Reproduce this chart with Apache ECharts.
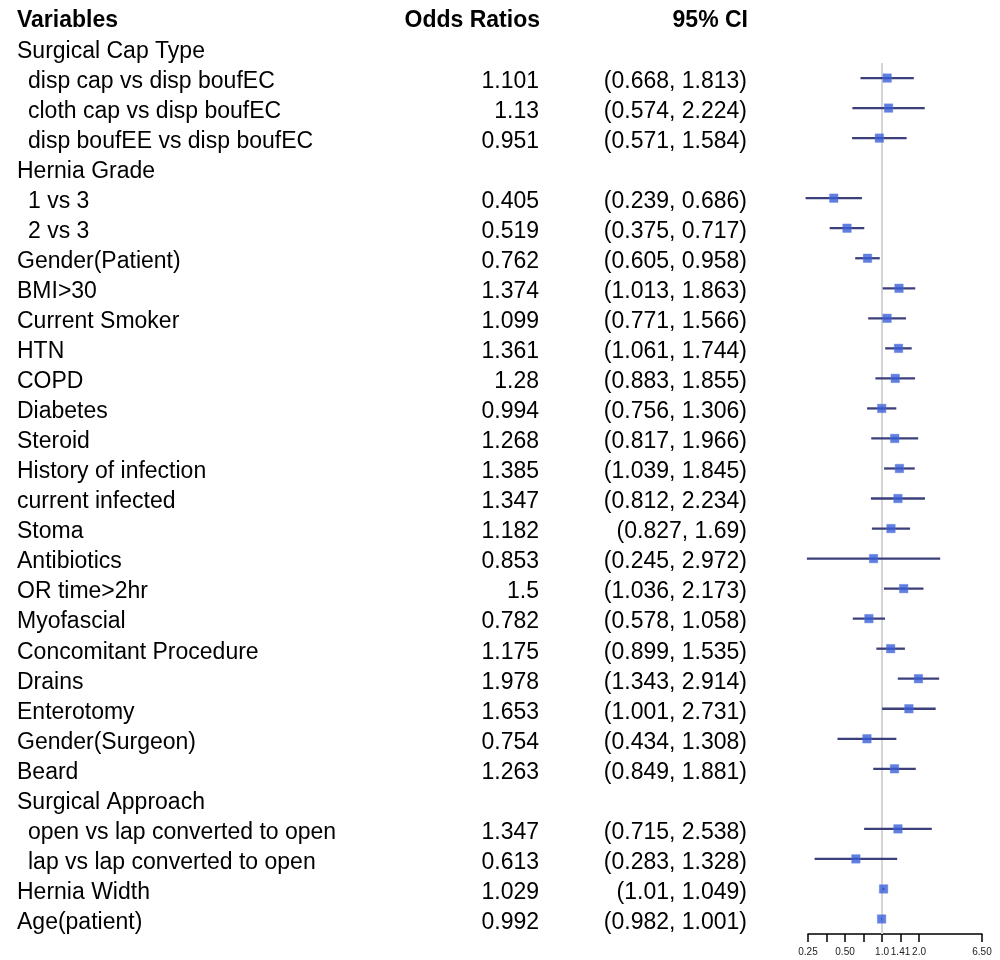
<!DOCTYPE html>
<html>
<head>
<meta charset="utf-8">
<script src="https://cdn.jsdelivr.net/npm/echarts@6/dist/echarts.min.js"></script>
<style>html,body{margin:0;padding:0;background:#fff}#c{width:1000px;height:960px}</style>
</head>
<body>
<div id="c"></div>
<script>
// ---- data ----
var variables = ["Surgical Cap Type","disp cap vs disp boufEC","cloth cap vs disp boufEC","disp boufEE vs disp boufEC",
  "Hernia Grade","1 vs 3","2 vs 3","Gender(Patient)","BMI>30","Current Smoker","HTN","COPD","Diabetes","Steroid",
  "History of infection","current infected","Stoma","Antibiotics","OR time>2hr","Myofascial","Concomitant Procedure",
  "Drains","Enterotomy","Gender(Surgeon)","Beard","Surgical Approach","open vs lap converted to open",
  "lap vs lap converted to open","Hernia Width","Age(patient)"];
var level = [0,1,1,1, 0,1,1, 0,0,0,0,0,0,0, 0,0,0,0,0,0,0, 0,0,0,0, 0,1,1, 0,0];
var oddsRatios = [null,1.101,1.13,0.951, null,0.405,0.519, 0.762,1.374,1.099,1.361,1.28,0.994,1.268,
  1.385,1.347,1.182,0.853,1.5,0.782,1.175, 1.978,1.653,0.754,1.263, null,1.347,0.613, 1.029,0.992];
var lower = [null,0.668,0.574,0.571, null,0.239,0.375, 0.605,1.013,0.771,1.061,0.883,0.756,0.817,
  1.039,0.812,0.827,0.245,1.036,0.578,0.899, 1.343,1.001,0.434,0.849, null,0.715,0.283, 1.01,0.982];
var upper = [null,1.813,2.224,1.584, null,0.686,0.717, 0.958,1.863,1.566,1.744,1.855,1.306,1.966,
  1.845,2.234,1.69,2.972,2.173,1.058,1.535, 2.914,2.731,1.308,1.881, null,2.538,1.328, 1.049,1.001];
var tickValues = [0.25, 0.3536, 0.5, 0.7071, 1.0, 1.4142, 2.0, 6.5];
var tickLabelValues = [0.25, 0.5, 1.0, 1.4142, 2.0, 6.5];
var tickLabels = ["0.25", "0.50", "1.0", "1.41", "2.0", "6.50"];
var headers = ["Variables", "Odds Ratios", "95% CI"];

// ---- derived ----
function lg(v){ return Math.log(v) / Math.LN2; }
var orText = oddsRatios.map(function(v){ return v == null ? "" : String(v); });
var ciText = lower.map(function(v, i){ return v == null ? "" : "(" + v + ", " + upper[i] + ")"; });
var points = [], ciData = [];
oddsRatios.forEach(function(v, i){
  if (v != null) {
    points.push([lg(v), i]);
    ciData.push([lg(lower[i]), lg(upper[i]), i]);
  }
});
var xMin = lg(tickValues[0]), xMax = lg(tickValues[tickValues.length - 1]);
var FONT = "Liberation Sans, Arial, sans-serif";
var FS = 23;
var GL = 808, GR = 18, GT = 33, GB = 26;
var rowRich = {
  main: { fontSize: FS, color: '#000', fontFamily: FONT, padding: [7, 0, 0, 0] },
  sub: { fontSize: FS, color: '#000', fontFamily: FONT, padding: [7, 0, 0, 11] }
};
function txt(v){ return v ? '{main|' + v + '}' : ''; }

var chart = echarts.init(document.getElementById('c'));
chart.setOption({
  backgroundColor: '#fff',
  animation: false,
  textStyle: { fontFamily: FONT },
  graphic: [
    { type: 'text', left: 17, top: 9, style: { text: headers[0], font: 'bold ' + FS + 'px ' + FONT, fill: '#000' } },
    { type: 'text', right: 1000 - 540, top: 9, style: { text: headers[1], font: 'bold ' + FS + 'px ' + FONT, fill: '#000' } },
    { type: 'text', right: 1000 - 748, top: 9, style: { text: headers[2], font: 'bold ' + FS + 'px ' + FONT, fill: '#000' } }
  ],
  grid: { left: GL, right: GR, top: GT, bottom: GB, containLabel: false },
  xAxis: {
    type: 'value', min: xMin, max: xMax, position: 'bottom',
    axisLine: { show: true, onZero: false, lineStyle: { color: '#000', width: 1.5 } },
    axisTick: { show: true, length: 8, lineStyle: { color: '#000', width: 1.5 },
      customValues: tickValues.map(lg) },
    axisLabel: { show: true, fontSize: 10, color: '#222', margin: 13, fontFamily: FONT,
      customValues: tickLabelValues.map(lg),
      formatter: function(v){
        var best = 0, d = 1e9;
        tickLabelValues.forEach(function(t, k){ var dd = Math.abs(lg(t) - v); if (dd < d) { d = dd; best = k; } });
        return tickLabels[best];
      } },
    splitLine: { show: false }
  },
  yAxis: [
    { type: 'category', inverse: true, data: variables, position: 'left',
      axisLine: { show: false }, axisTick: { show: false }, splitLine: { show: false },
      axisLabel: { align: 'left', margin: GL - 17, interval: 0,
        formatter: function(v, i){ return (level[i] ? '{sub|' : '{main|') + v + '}'; },
        rich: rowRich } },
    { type: 'category', inverse: true, data: orText, position: 'left',
      axisLine: { show: false }, axisTick: { show: false }, splitLine: { show: false },
      axisLabel: { align: 'right', margin: GL - 539, interval: 0, formatter: txt, rich: rowRich } },
    { type: 'category', inverse: true, data: ciText, position: 'left',
      axisLine: { show: false }, axisTick: { show: false }, splitLine: { show: false },
      axisLabel: { align: 'right', margin: GL - 747, interval: 0, formatter: txt, rich: rowRich } },
    { type: 'value', inverse: true, min: -0.5, max: variables.length - 0.5, show: false }
  ],
  series: [
    { type: 'line', yAxisIndex: 3, data: [[0, 0.5], [0, variables.length - 0.5]], symbol: 'none',
      lineStyle: { color: '#d4d4d4', width: 2 }, silent: true, z: 1 },
    { type: 'custom', yAxisIndex: 3, data: ciData, clip: false, z: 2,
      renderItem: function(params, api){
        var a = api.coord([api.value(0), api.value(2)]);
        var b = api.coord([api.value(1), api.value(2)]);
        return { type: 'line', shape: { x1: a[0], y1: a[1], x2: b[0], y2: b[1] },
          style: { stroke: '#3b3f7a', lineWidth: 2.3 } };
      },
      encode: { x: [0, 1], y: 2 } },
    { type: 'scatter', yAxisIndex: 3, data: points, symbol: 'rect', symbolSize: 8.5, z: 3,
      itemStyle: { color: '#3a5fd8', borderColor: '#5a7de0', borderWidth: 0.5 } }
  ]
});
</script>
</body>
</html>
